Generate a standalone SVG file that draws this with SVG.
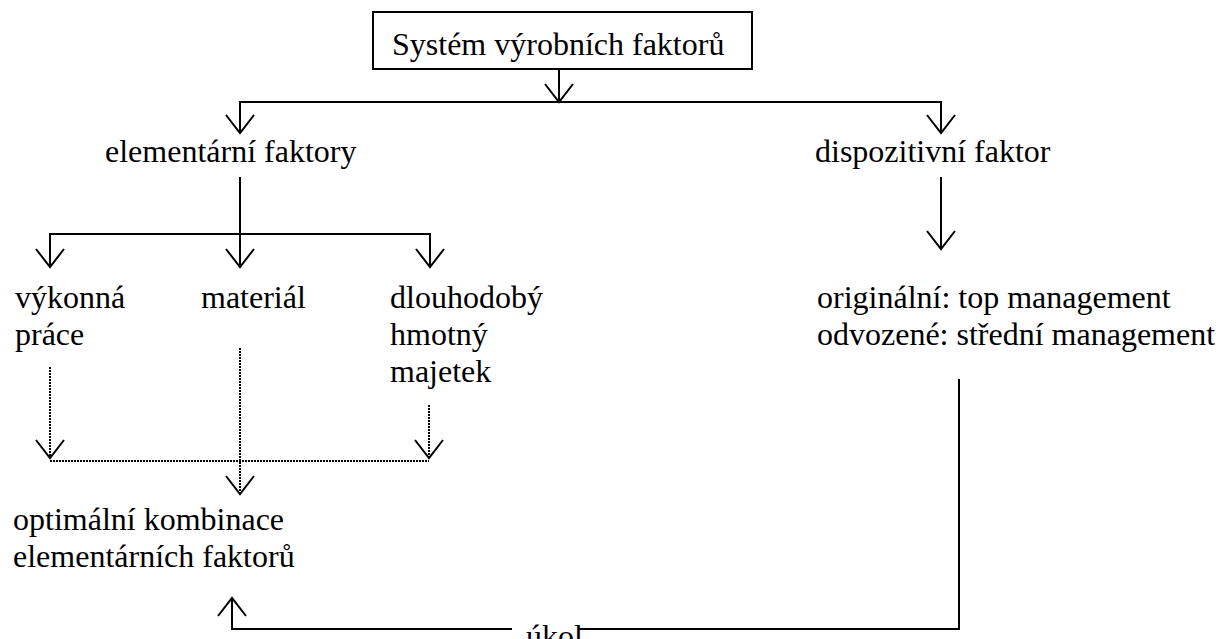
<svg xmlns="http://www.w3.org/2000/svg" width="1216" height="639" viewBox="0 0 1216 639">
<style>
  text { font-family: "Liberation Serif", "Times New Roman", serif; font-size: 32px; fill: #000; }
  .ln { stroke: #000; stroke-width: 2; fill: none; }
  .dot { stroke: #000; stroke-width: 2; fill: none; stroke-dasharray: 2 1; }
</style>
<defs>
  <marker id="v" markerUnits="userSpaceOnUse" orient="auto" refX="0" refY="0" markerWidth="40" markerHeight="40" viewBox="-20 -20 40 40" overflow="visible">
    <path d="M-18,-14 L0,0 L-18,14" stroke="#000" stroke-width="2" fill="none" stroke-dasharray="none"/>
  </marker>
</defs>
<rect width="1216" height="639" fill="#fff"/>
<g id="connectors">
  <line class="ln" x1="559" y1="70" x2="559" y2="102" marker-end="url(#v)"/>
  <polyline class="ln" points="240,133 240,102 941,102 941,133"/>
  <line class="ln" x1="240" y1="110" x2="240" y2="133" marker-end="url(#v)"/>
  <line class="ln" x1="941" y1="110" x2="941" y2="133" marker-end="url(#v)"/>
  <line class="ln" x1="240" y1="177" x2="240" y2="234"/>
  <polyline class="ln" points="50,267 50,234 430,234 430,267"/>
  <line class="ln" x1="50" y1="240" x2="50" y2="267" marker-end="url(#v)"/>
  <line class="ln" x1="240" y1="234" x2="240" y2="267" marker-end="url(#v)"/>
  <line class="ln" x1="430" y1="240" x2="430" y2="267" marker-end="url(#v)"/>
  <line class="ln" x1="941" y1="177" x2="941" y2="249" marker-end="url(#v)"/>
  <line class="dot" x1="50" y1="367" x2="50" y2="458" marker-end="url(#v)"/>
  <line class="dot" x1="429" y1="405" x2="429" y2="458" marker-end="url(#v)"/>
  <line class="dot" x1="50" y1="461" x2="429" y2="461"/>
  <line class="dot" x1="240" y1="348" x2="240" y2="494" marker-end="url(#v)"/>
  <polyline class="ln" points="959,379 959,629 578,629"/>
  <polyline class="ln" points="512,629 232,629 232,598" marker-end="url(#v)"/>
</g>
<g id="node-system">
  <rect x="373" y="12" width="379" height="57" fill="#fff" stroke="#000" stroke-width="2"/>
  <text x="392" y="55">Systém výrobních faktorů</text>
</g>
<g id="node-elementarni">
  <text x="105" y="162">elementární faktory</text>
</g>
<g id="node-dispozitivni">
  <text x="815" y="162">dispozitivní faktor</text>
</g>
<g id="node-vykonna">
  <text x="15" y="308">výkonná</text>
  <text x="15" y="345">práce</text>
</g>
<g id="node-material">
  <text x="201" y="308">materiál</text>
</g>
<g id="node-dlouhodoby">
  <text x="390" y="308">dlouhodobý</text>
  <text x="390" y="345">hmotný</text>
  <text x="390" y="382">majetek</text>
</g>
<g id="node-management">
  <text x="817" y="308">originální: top management</text>
  <text x="817" y="345">odvozené: střední management</text>
</g>
<g id="node-optimalni">
  <text x="13" y="530">optimální kombinace</text>
  <text x="13" y="567">elementárních faktorů</text>
</g>
<g id="label-ukol">
  <text x="526" y="647">úkol</text>
</g>
</svg>
